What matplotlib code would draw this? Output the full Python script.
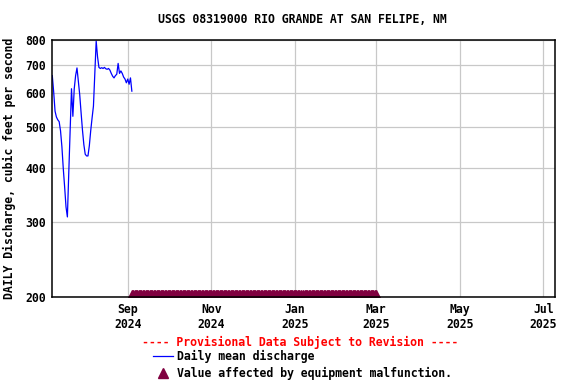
import numpy as np
import pandas as pd
import matplotlib
matplotlib.use('Agg')
import matplotlib.pyplot as plt
import matplotlib.dates as mdates
from matplotlib.lines import Line2D
from matplotlib.ticker import FixedLocator, NullLocator

# Daily mean discharge, cfs, starting 2024-07-08
start_date = '2024-07-08'
discharge = [660, 605, 545, 528, 520, 515, 490, 450, 400, 362,
             325, 308, 390, 490, 615, 530, 615, 660, 688, 640,
             595, 540, 492, 455, 432, 428, 428, 452, 490, 525,
             560, 668, 795, 730, 690, 686, 689, 686, 690, 685,
             683, 686, 680, 668, 658, 652, 660, 665, 705, 668,
             677, 668, 655, 648, 635, 648, 630, 652, 607]

# equipment malfunction period (one day missing in early January)
malf_start = '2024-09-04'
malf_end = '2025-03-01'
malf_gap = ['2025-01-06']

y_ticks = [200, 300, 400, 500, 600, 700, 800]
x_ticks = ['2024-09-01', '2024-11-01', '2025-01-01', '2025-03-01', '2025-05-01', '2025-07-01']
x_range = ['2024-07-07 14:00', '2025-07-09 12:00']

title = 'USGS 08319000 RIO GRANDE AT SAN FELIPE, NM'
ylabel = 'DAILY Discharge, cubic feet per second'

blue = '#0000ff'
maroon = '#800040'
grid_col = '#c8c8c8'

plt.rcParams['font.family'] = ['DejaVu Sans Mono']
plt.rcParams['font.weight'] = 'bold'

dates = pd.date_range(start_date, periods=len(discharge), freq='D')
malf_dates = pd.date_range(malf_start, malf_end, freq='D')
malf_dates = malf_dates[~malf_dates.isin(pd.to_datetime(malf_gap))]

fig = plt.figure(figsize=(5.76, 3.84), dpi=100)
ax = fig.add_axes([0.0898, 0.2266, 0.8737, 0.6693])

ax.plot(dates, discharge, color=blue, lw=0.9)
ax.plot(malf_dates, np.full(len(malf_dates), 200.0), ls='none', marker='^',
        ms=10, color=maroon, mec=maroon, clip_on=True)

ax.set_yscale('log')
ax.set_ylim(200, 800)
ax.yaxis.set_major_locator(FixedLocator(y_ticks))
ax.yaxis.set_minor_locator(NullLocator())
ax.set_yticklabels([str(v) for v in y_ticks])

ax.set_xlim(pd.to_datetime(x_range[0]), pd.to_datetime(x_range[1]))
ax.set_xticks(pd.to_datetime(x_ticks))
ax.xaxis.set_major_formatter(mdates.DateFormatter('%b\n%Y'))

ax.grid(True, color=grid_col, lw=0.9)
ax.set_axisbelow(True)
ax.tick_params(length=0, labelsize=8.3, pad=4)
for lab in ax.get_xticklabels() + ax.get_yticklabels():
    lab.set_fontweight('bold')
for s in ax.spines.values():
    s.set_linewidth(1.1)
    s.set_color('black')

ax.set_ylabel(ylabel, fontsize=8.3, fontweight='bold', labelpad=7)
fig.text(0.525, 0.95, title, ha='center', va='center', fontsize=8.3, fontweight='bold')

fig.text(0.521, 0.107, '---- Provisional Data Subject to Revision ----', ha='center',
         va='center', color='red', fontsize=8.3, fontweight='bold')

handles = [Line2D([], [], color=blue, lw=0.9),
           Line2D([], [], ls='none', marker='^', ms=7, color=maroon)]
fig.legend(handles, ['Daily mean discharge', 'Value affected by equipment malfunction.'],
           loc='upper left', bbox_to_anchor=(0.2655, 0.088), frameon=False,
           prop={'size': 8.3, 'weight': 'bold'}, handlelength=1.7, handletextpad=0.4,
           labelspacing=0.28, borderpad=0, borderaxespad=0)

fig.savefig('out.png', dpi=100)
